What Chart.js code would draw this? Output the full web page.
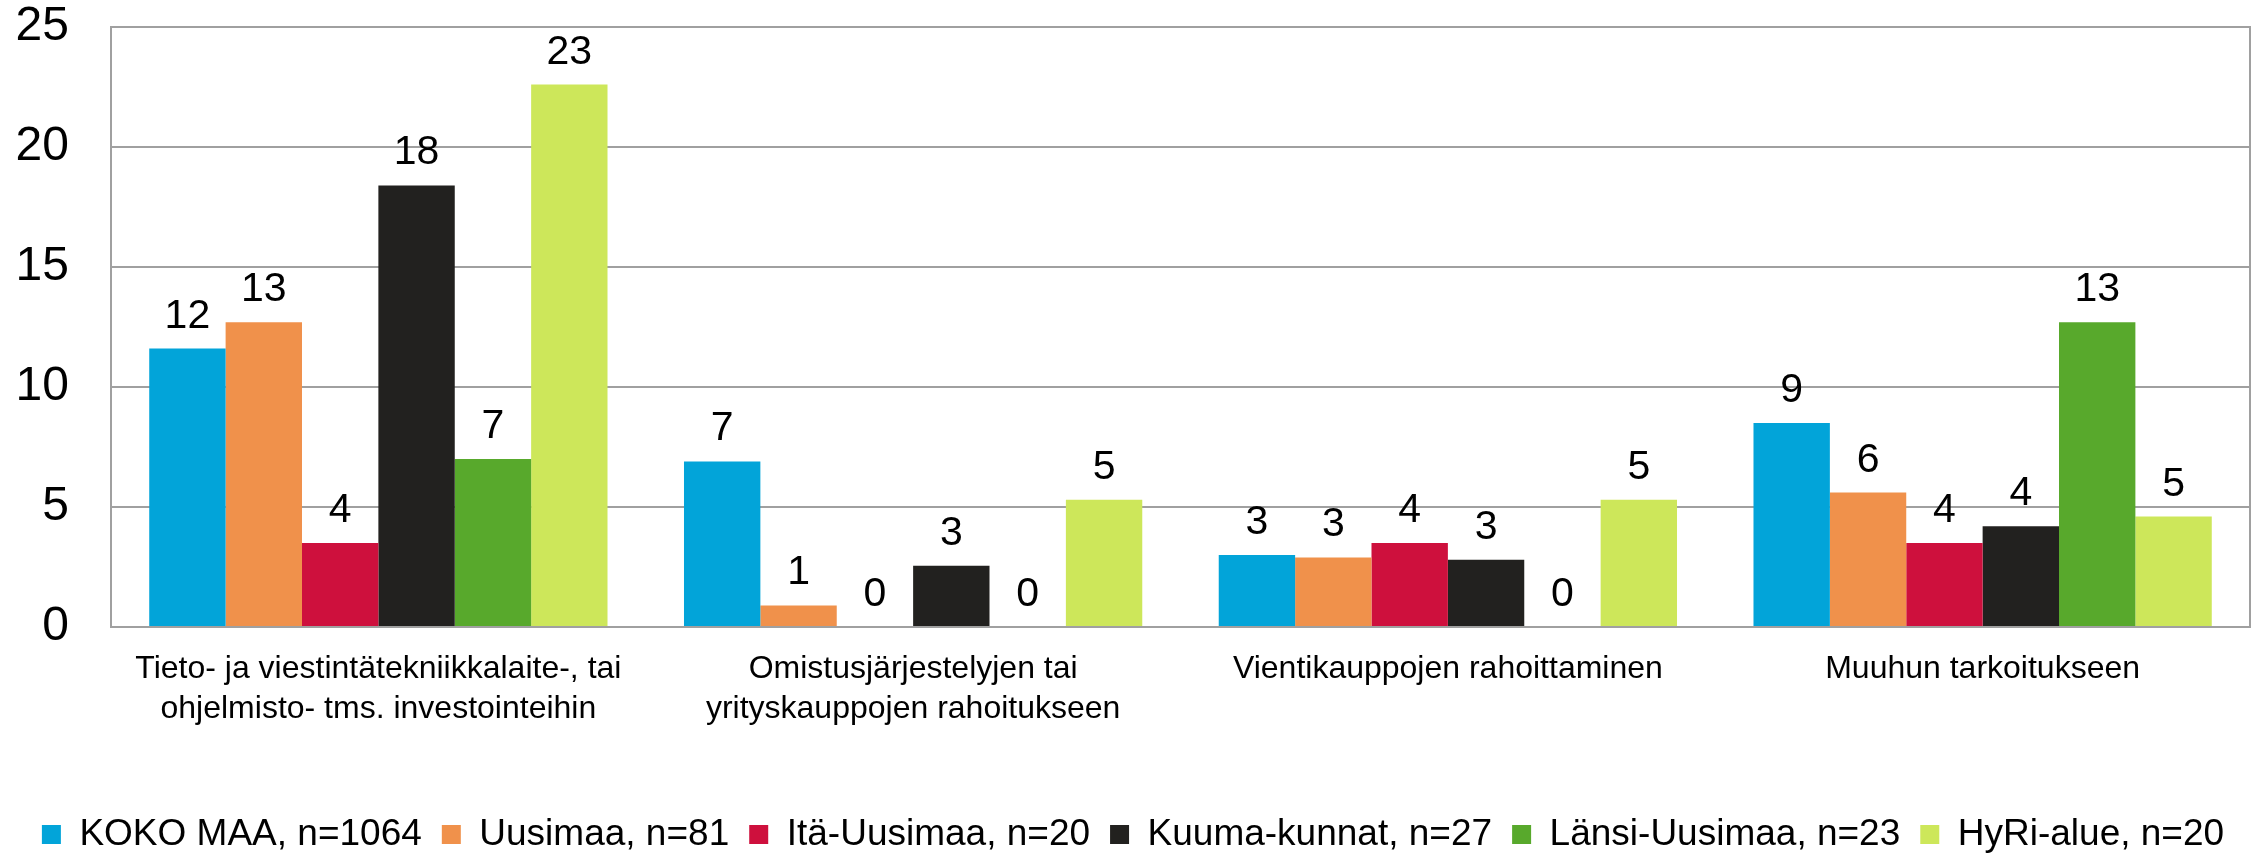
<!DOCTYPE html>
<html><head><meta charset="utf-8">
<script src="https://cdn.jsdelivr.net/npm/chart.js@4.4.0/dist/chart.umd.min.js"></script>
<style>html,body{margin:0;padding:0;background:#fff;} #wrap{width:2260px;height:853px;}</style>
</head><body><div id="wrap"><canvas id="c" width="2260" height="853"></canvas></div>
<script>
const categories = [
  ["Tieto- ja viestintätekniikkalaite-, tai", "ohjelmisto- tms. investointeihin"],
  ["Omistusjärjestelyjen tai", "yrityskauppojen rahoitukseen"],
  "Vientikauppojen rahoittaminen",
  "Muuhun tarkoitukseen"
];
const seriesNames = ["KOKO MAA, n=1064", "Uusimaa, n=81", "Itä-Uusimaa, n=20", "Kuuma-kunnat, n=27", "Länsi-Uusimaa, n=23", "HyRi-alue, n=20"];
const kokoMaa      = [11.6, 6.9, 3.0, 8.5];
const uusimaa      = [12.7, 0.9, 2.9, 5.6];
const itaUusimaa   = [3.5, 0, 3.5, 3.5];
const kuumaKunnat  = [18.4, 2.55, 2.8, 4.2];
const lansiUusimaa = [7.0, 0, 0, 12.7];
const hyriAlue     = [22.6, 5.3, 5.3, 4.6];
const yTicks = [0, 5, 10, 15, 20, 25];
const seriesColors = ["#02A4D9", "#F0914B", "#CE103D", "#22211F", "#58A92C", "#CDE75A"];

const FONT = "'Liberation Sans', Arial, sans-serif";
const GRID = "#a0a0a0";

const valueLabels = {
  id: "valueLabels",
  afterDatasetsDraw(chart) {
    const ctx = chart.ctx;
    ctx.save();
    ctx.font = "41px " + FONT;
    ctx.fillStyle = "#000";
    ctx.textAlign = "center";
    ctx.textBaseline = "alphabetic";
    chart.data.datasets.forEach((ds, i) => {
      const meta = chart.getDatasetMeta(i);
      meta.data.forEach((el, j) => {
        const v = ds.data[j];
        ctx.fillText(String(Math.round(v)), el.x, el.y - 21);
      });
    });
    ctx.restore();
  }
};
const rightBorder = {
  id: "rightBorder",
  afterDraw(chart) {
    const a = chart.chartArea, ctx = chart.ctx;
    ctx.save();
    ctx.strokeStyle = GRID;
    ctx.lineWidth = 2;
    ctx.beginPath();
    ctx.moveTo(a.right, a.top - 1);
    ctx.lineTo(a.right, a.bottom + 1);
    ctx.stroke();
    ctx.restore();
  }
};

const seriesData = [kokoMaa, uusimaa, itaUusimaa, kuumaKunnat, lansiUusimaa, hyriAlue];

new Chart(document.getElementById("c"), {
  type: "bar",
  data: {
    labels: categories,
    datasets: seriesNames.map((n, i) => ({
      label: n,
      data: seriesData[i],
      backgroundColor: seriesColors[i],
      borderWidth: 0,
      categoryPercentage: 0.857,
      barPercentage: 1.0
    }))
  },
  options: {
    responsive: false,
    animation: false,
    devicePixelRatio: 1,
    layout: { padding: { left: 16, right: 10, top: 27, bottom: -10 } },
    plugins: {
      tooltip: { enabled: false },
      legend: {
        position: "bottom",
        labels: {
          boxWidth: 19, boxHeight: 19, padding: 20,
          color: "#000",
          font: { family: FONT, size: 37 }
        }
      }
    },
    scales: {
      y: {
        min: 0, max: 25,
        afterBuildTicks(scale) { scale.ticks = yTicks.map(v => ({ value: v })); },
        afterFit(scale) { scale.width = 95; scale.paddingTop = 0; scale.paddingBottom = 0; },
        ticks: { color: "#000", padding: 42, font: { family: FONT, size: 48 } },
        grid: { color: GRID, lineWidth: 2, drawTicks: false },
        border: { display: true, color: GRID, width: 2 }
      },
      x: {
        afterFit(scale) { scale.height = 169; scale.paddingLeft = 0; scale.paddingRight = 0; },
        ticks: { color: "#000", padding: 22, maxRotation: 0, autoSkip: false,
                 font: { family: FONT, size: 32, lineHeight: 1.25 } },
        grid: { display: false, drawTicks: false },
        border: { display: true, color: GRID, width: 2 }
      }
    }
  },
  plugins: [valueLabels, rightBorder]
});
</script></body></html>
